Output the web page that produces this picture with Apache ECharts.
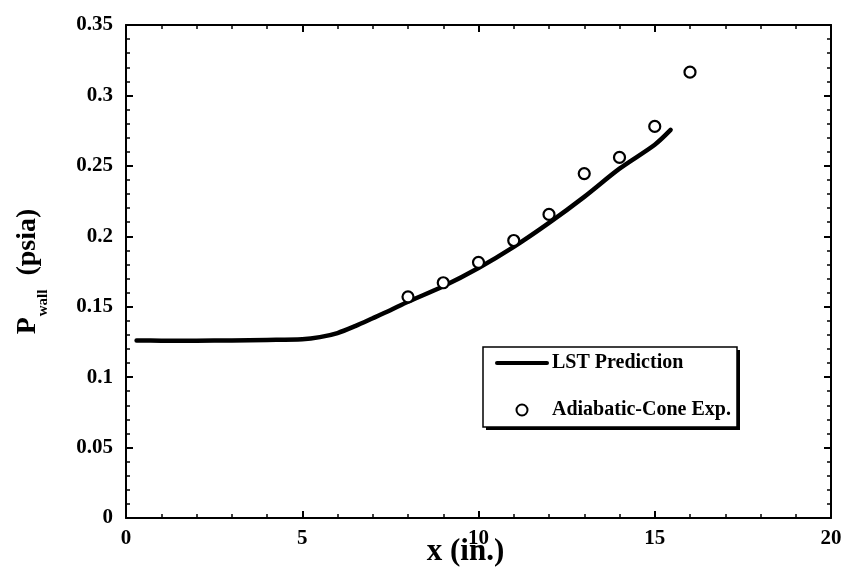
<!DOCTYPE html>
<html>
<head>
<meta charset="utf-8">
<script src="https://cdn.jsdelivr.net/npm/echarts@6/dist/echarts.min.js"></script>
<style>
  html, body { margin: 0; padding: 0; background: #fff; }
  #chart { width: 845px; height: 572px; }
</style>
</head>
<body>
<div id="chart"></div>
<script>
// LST prediction of wall pressure along the cone (x in inches, P in psia)
const lstX = [0.3, 1, 2, 3, 4, 5, 5.5, 6, 6.5, 7, 7.5, 8, 9, 10, 11, 12, 13, 14, 15, 15.45];
const lstP = [0.126, 0.1259, 0.1259, 0.1261, 0.1264, 0.1269, 0.1284, 0.1313, 0.1362, 0.1418, 0.1475, 0.1535, 0.1645, 0.1775, 0.1925, 0.2095, 0.228, 0.248, 0.265, 0.2755];

// Adiabatic-cone experiment
const expX = [8, 9, 10, 11, 12, 13, 14, 15, 16];
const expP = [0.157, 0.167, 0.1815, 0.197, 0.2155, 0.2445, 0.256, 0.278, 0.3165];

const seriesNames = ['LST Prediction', 'Adiabatic-Cone Exp.'];

const serif = '"Liberation Serif", "DejaVu Serif", serif';

const pairs = (xs, ys) => xs.map((x, i) => [x, ys[i]]);

const xBase = {
  type: 'value', min: 0, max: 20, interval: 5,
  axisLine: { show: true, onZero: false, lineStyle: { color: '#000', width: 2 } },
  axisTick: { show: true, inside: true, length: 7, lineStyle: { color: '#000', width: 2 } },
  minorTick: { show: true, splitNumber: 5, length: 4, lineStyle: { color: '#000', width: 1.5 } },
  splitLine: { show: false }
};
const yBase = {
  type: 'value', min: 0, max: 0.35, interval: 0.05,
  axisLine: { show: true, onZero: false, lineStyle: { color: '#000', width: 2 } },
  axisTick: { show: true, inside: true, length: 7, lineStyle: { color: '#000', width: 2 } },
  minorTick: { show: true, splitNumber: 5, length: 4, lineStyle: { color: '#000', width: 1.5 } },
  splitLine: { show: false }
};

const chart = echarts.init(document.getElementById('chart'), null, { renderer: 'canvas' });

chart.setOption({
  backgroundColor: '#fff',
  animation: false,
  textStyle: { fontFamily: serif, color: '#000' },
  grid: { left: 126, right: 14, top: 25, bottom: 54, containLabel: false, outerBoundsMode: 'none' },
  xAxis: [
    Object.assign({}, xBase, {
      position: 'bottom',
      name: 'x (in.)',
      nameLocation: 'middle',
      nameGap: 18,
      nameMoveOverlap: false,
      nameTextStyle: { fontFamily: serif, fontWeight: 'bold', fontSize: 31, color: '#000', verticalAlign: 'top', padding: [0, 26, 0, 0] },
      axisLabel: { show: true, margin: 10, fontFamily: serif, fontWeight: 'bold', fontSize: 21, color: '#000' }
    }),
    Object.assign({}, xBase, { position: 'top', axisLabel: { show: false } })
  ],
  yAxis: [
    Object.assign({}, yBase, {
      position: 'left',
      name: '{p|P}{sub|wall}{p|  (psia)}',
      nameLocation: 'middle',
      nameGap: 84,
      nameRotate: 90,
      nameTextStyle: {
        fontFamily: serif, fontWeight: 'bold', color: '#000',
        rich: {
          p: { fontFamily: serif, fontWeight: 'bold', fontSize: 28, color: '#000', lineHeight: 28, verticalAlign: 'top' },
          sub: { fontFamily: serif, fontWeight: 'bold', fontSize: 15, color: '#000', lineHeight: 15, padding: [22, 0, 0, 1], verticalAlign: 'top' }
        }
      },
      axisLabel: { show: true, margin: 13, fontFamily: serif, fontWeight: 'bold', fontSize: 21, color: '#000' }
    }),
    Object.assign({}, yBase, { position: 'right', axisLabel: { show: false } })
  ],
  legend: {
    show: true,
    orient: 'vertical',
    left: 495,
    top: 353,
    padding: 0,
    itemWidth: 50,
    itemHeight: 11,
    itemGap: 27,
    z: 6,
    data: [
      { name: seriesNames[0], itemStyle: { opacity: 0 }, lineStyle: { width: 4, color: '#000' } },
      { name: seriesNames[1] }
    ],
    textStyle: { fontFamily: serif, fontWeight: 'bold', fontSize: 20, color: '#000', lineHeight: 20 }
  },
  graphic: [
    { type: 'rect', z: 3, shape: { x: 486, y: 350, width: 254, height: 80 }, style: { fill: '#000' } },
    { type: 'rect', z: 4, shape: { x: 483, y: 347, width: 254, height: 80 }, style: { fill: '#fff', stroke: '#000', lineWidth: 1.5 } }
  ],
  series: [
    {
      name: seriesNames[0],
      type: 'line',
      data: pairs(lstX, lstP),
      smooth: 0.3,
      showSymbol: false,
      symbol: 'none',
      lineStyle: { color: '#000', width: 4.5, cap: 'round', join: 'round' },
      itemStyle: { color: '#000' },
      z: 2
    },
    {
      name: seriesNames[1],
      type: 'scatter',
      data: pairs(expX, expP),
      symbol: 'circle',
      symbolSize: 11,
      itemStyle: { color: '#fff', borderColor: '#000', borderWidth: 2.2, opacity: 1 },
      z: 3
    }
  ]
});
</script>
</body>
</html>
